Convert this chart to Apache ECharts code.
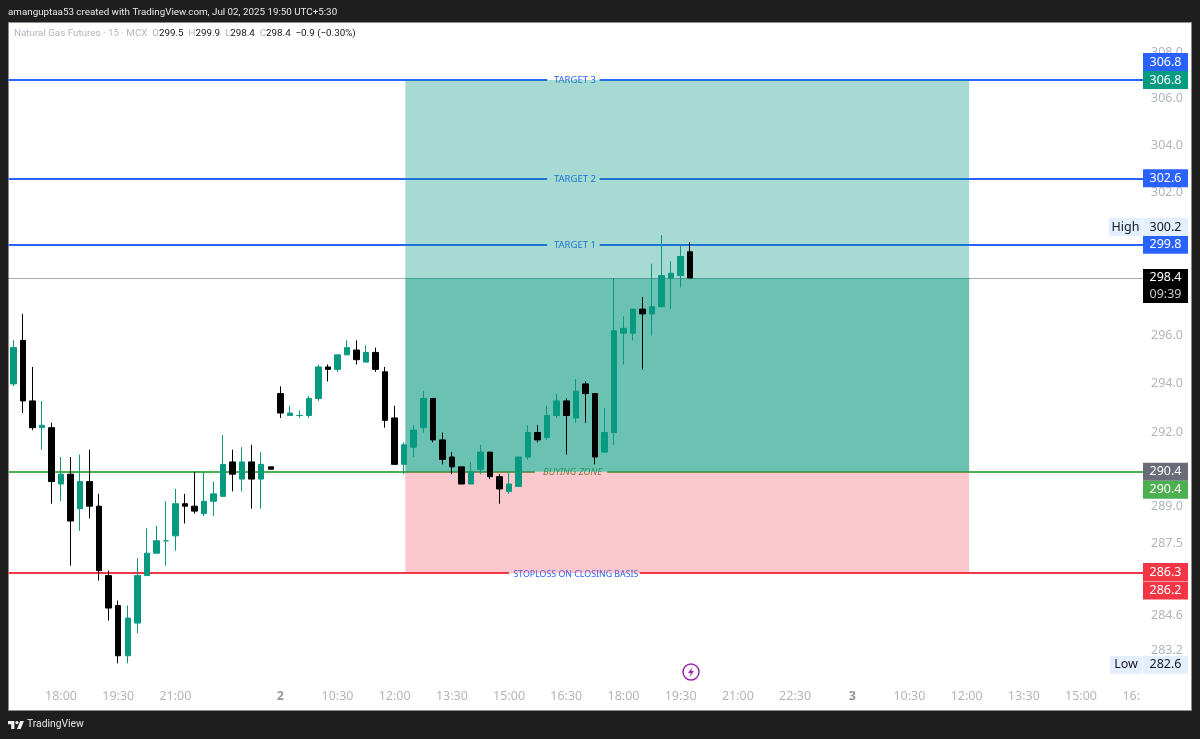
<!DOCTYPE html>
<html><head><meta charset="utf-8"><style>html,body{margin:0;padding:0;background:#1e1e1e}#c{width:1200px;height:739px}</style>
<script src="https://cdn.jsdelivr.net/npm/echarts@6/dist/echarts.min.js"></script></head><body><div id="c"></div>
<script>
const day1Times=['16:45','17:00','17:15','17:30','17:45','18:00','18:15','18:30','18:45','19:00','19:15','19:30','19:45','20:00','20:15','20:30','20:45','21:00','21:15','21:30','21:45','22:00','22:15','22:30','22:45','23:00','23:15','23:30'];
const day2Times=['2','09:15','09:30','09:45','10:00','10:15','10:30','10:45','11:00','11:15','11:30','11:45','12:00','12:15','12:30','12:45','13:00','13:15','13:30','13:45','14:00','14:15','14:30','14:45','15:00','15:15','15:30','15:45','16:00','16:15','16:30','16:45','17:00','17:15','17:30','17:45','18:00','18:15','18:30','18:45','19:00','19:15','19:30','19:45','20:00','20:15','20:30','20:45','21:00','21:15','21:30','21:45','22:00','22:15','22:30','22:45','23:00','23:15','23:30','23:45'];
const day3Times=['3','09:15','09:30','09:45','10:00','10:15','10:30','10:45','11:00','11:15','11:30','11:45','12:00','12:15','12:30','12:45','13:00','13:15','13:30','13:45','14:00','14:15','14:30','14:45','15:00','15:15','15:30','15:45','16:00','16:15','16:30'];
const categories=day1Times.concat(day2Times,day3Times);
const shownTimeIndex=[5,11,17,28,34,40,46,52,58,64,70,76,82,88,94,100,106,112,118];
const priceTicks=[308,306,304,302,296,294,292,289,287.5,284.6,283.2];
// open, close, low, high
const candles=[
[294.0,295.5,293.9,295.8],[295.8,293.3,292.8,296.9],[293.3,292.2,292.1,294.7],[292.2,292.3,291.3,293.3],
[292.2,290.0,289.1,292.4],[289.9,290.3,289.2,291.0],[290.3,288.4,286.6,291.0],[288.9,290.0,288.0,291.1],
[290.0,289.0,288.5,291.3],[289.0,286.4,286.0,289.5],[286.2,284.9,284.4,286.4],[285.0,283.0,282.7,285.2],
[283.0,284.5,282.7,285.0],[284.3,286.2,283.9,286.9],[286.2,287.1,286.2,288.1],[287.1,287.6,287.1,288.2],
[287.6,287.6,286.6,289.2],[287.8,289.1,287.2,289.7],[289.1,289.0,288.3,289.5],[289.0,288.8,288.7,290.4],
[288.7,289.2,288.6,290.4],[289.2,289.5,288.6,290.0],[289.4,290.7,289.4,291.9],[290.8,290.3,289.6,291.3],
[290.1,290.8,289.6,291.4],[290.8,290.1,288.9,291.5],[290.1,290.7,288.9,291.2],[290.6,290.5,290.5,290.6],
[293.6,292.8,292.6,293.9],[292.7,292.8,292.7,293.1],[292.7,292.7,292.6,292.9],[292.7,293.4,292.6,293.5],
[293.4,294.7,293.3,294.8],[294.7,294.6,294.1,294.8],[294.6,295.2,294.5,295.2],[295.2,295.5,295.2,295.8],
[295.4,295.0,294.8,295.8],[294.9,295.3,294.9,295.6],[295.3,294.6,294.5,295.5],[294.5,292.5,292.2,294.7],
[292.6,290.7,290.7,293.1],[290.7,291.5,290.3,291.6],[291.4,292.1,291.0,292.3],[292.2,293.4,292.0,293.7],
[293.4,291.7,291.6,293.4],[291.7,290.9,290.7,292.0],[291.0,290.6,290.3,291.2],[290.6,289.9,289.9,290.6],
[289.9,290.4,289.9,290.8],[290.5,291.2,290.3,291.5],[291.2,290.2,290.1,291.2],[290.2,289.7,289.1,290.3],
[289.6,289.9,289.5,290.4],[289.8,291.0,289.8,291.0],[291.0,292.0,290.9,292.3],[292.0,291.7,291.6,292.3],
[291.8,292.7,291.7,293.1],[292.7,293.3,292.6,293.6],[293.3,292.7,291.1,293.4],[292.6,293.7,292.4,294.2],
[294.0,293.6,292.4,294.1],[293.6,291.0,290.7,293.6],[291.2,292.0,291.2,293.0],[292.0,296.2,291.5,298.4],
[296.1,296.3,294.8,296.8],[296.1,297.1,295.8,297.1],[297.1,296.9,294.6,297.6],[296.9,297.2,296.0,299.0],
[297.2,298.5,297.2,300.2],[298.4,298.6,297.1,299.1],[298.5,299.3,298.0,299.8],[299.5,298.4,298.4,299.9]
];
const target3=306.8,target2=302.6,target1=299.8,lastPrice=298.4,entry=290.4,stop=286.3,stopBadge=286.2,dayHigh=300.2,dayLow=282.6;
const yMin=281.96,yMax=309.31;

const BLUE='#2962ff',GREEN='#4caf50',RED='#f23645',TEAL='#089981',FONT='"Noto Sans",sans-serif';
const HIDDEN={color:'rgba(0,0,0,0)',width:0,opacity:1};
const band=categories.length;
function seg(v,a,b,color,width,type){return [{xAxis:a,yAxis:v,lineStyle:{color,width,type:type||'solid',opacity:1},label:{show:false}},{xAxis:b,yAxis:v}];}
function midLabel(v,a,b,text,color,italic,size){return [{xAxis:a,yAxis:v,lineStyle:HIDDEN,label:{show:true,position:'middle',offset:[1.5,5.5],formatter:text,color,fontSize:size||9.5,fontStyle:italic?'italic':'normal',fontFamily:FONT,distance:0}},{xAxis:b,yAxis:v}];}
function badge(v,text,bg,dy,fg){return [{xAxis:0,yAxis:v,lineStyle:HIDDEN,label:{show:true,position:'end',distance:0,offset:[0,dy],formatter:'{b|'+text+'}',rich:{b:{width:45,height:18,lineHeight:18,align:'center',backgroundColor:bg,color:fg||'#fff',fontSize:12.5,fontFamily:FONT}}}},{xAxis:band,yAxis:v}];}
function hiLow(v,name,dy,w){return [{xAxis:0,yAxis:v,lineStyle:HIDDEN,label:{show:true,position:'end',distance:0,offset:[-w-1,dy],formatter:'{n|'+name+'}{g| }{b|'+v.toFixed(1)+'}',rich:{g:{width:1,height:18,fontSize:1},n:{width:w,height:18,lineHeight:18,align:'center',backgroundColor:'#e3effd',color:'#131722',fontSize:12.5,fontFamily:FONT},b:{width:45,height:18,lineHeight:18,align:'center',backgroundColor:'#e3effd',color:'#131722',fontSize:12.5,fontFamily:FONT}}}},{xAxis:band,yAxis:v}];}

const gapT=[56.5,62],gapB=[55.2,62.8],gapS=[52.5,66.2],LINE_W=1.8;
const markLines=[
 seg(target3,0,gapT[0],BLUE,LINE_W),seg(target3,gapT[1],band,BLUE,LINE_W),midLabel(target3,gapT[0],gapT[1],'TARGET 3',BLUE),
 seg(target2,0,gapT[0],BLUE,LINE_W),seg(target2,gapT[1],band,BLUE,LINE_W),midLabel(target2,gapT[0],gapT[1],'TARGET 2',BLUE),
 seg(target1,0,gapT[0],BLUE,LINE_W),seg(target1,gapT[1],band,BLUE,LINE_W),midLabel(target1,gapT[0],gapT[1],'TARGET 1',BLUE),
 seg(entry,0,gapB[0],GREEN,LINE_W),seg(entry,gapB[1],band,GREEN,LINE_W),midLabel(entry,gapB[0],gapB[1],'BUYING ZONE','#5f8f3a',true),
 seg(stop,0,gapS[0],RED,LINE_W),seg(stop,gapS[1],band,RED,LINE_W),midLabel(stop,gapS[0],gapS[1],'STOPLOSS ON CLOSING BASIS',BLUE,false,8.8),
 seg(lastPrice,0,band,'#555',1,'dotted'),
 badge(target3,String(target3),BLUE,-18),badge(target3,String(target3),TEAL,0),
 badge(target2,String(target2),BLUE,0),badge(target1,String(target1),BLUE,0),
 hiLow(dayHigh,'High',-8,33),hiLow(dayLow,'Low',-1,32),
 badge(entry,String(entry),'#6a6d78',0),badge(entry,String(entry),GREEN,18),
 badge(stop,String(stop),RED,-1),badge(stopBadge,String(stopBadge),RED,15),
 [{xAxis:0,yAxis:lastPrice,lineStyle:HIDDEN,label:{show:true,position:'end',distance:0,offset:[0,8],formatter:'{p|298.4}\n{t|09:39}',backgroundColor:'#000',width:45,height:34,rich:{p:{width:45,height:17,lineHeight:17,align:'center',color:'#fff',fontSize:12.5,fontFamily:FONT},t:{width:45,height:17,lineHeight:17,align:'center',color:'#c8c8c8',fontSize:12.5,fontFamily:FONT}}}},{xAxis:band,yAxis:lastPrice}]
];
const zoneLeft=41.62,zoneRight=100.76;
const chart=echarts.init(document.getElementById('c'),null,{renderer:'canvas'});
chart.setOption({
 animation:false,backgroundColor:'#1e1e1e',
 grid:{left:8.6,top:22,width:1134.4,height:660,containLabel:false},
 xAxis:[
  {type:'category',data:categories,axisLine:{show:false},axisTick:{show:false},splitLine:{show:false},
   axisLabel:{margin:8,interval:(i)=>shownTimeIndex.includes(i),color:'#b2b5be',fontSize:12.5,fontFamily:FONT,
    formatter:(v,i)=>{if(v==='2'||v==='3')return '{day|'+v+'}';if(i===categories.length-1)return '{cut|16:}';return v;},
    rich:{day:{fontWeight:'bold',color:'#9598a1',fontSize:12.5,fontFamily:FONT},cut:{color:'#b2b5be',fontSize:12.5,fontFamily:FONT,padding:[0,14,0,0]}}}},
  {type:'value',show:false,min:0,max:band,splitLine:{show:false}}
 ],
 yAxis:{type:'log',position:'right',min:yMin,max:yMax,logBase:Math.E,axisLine:{show:false},axisTick:{show:false},splitLine:{show:false},minorSplitLine:{show:false},
  axisLabel:{customValues:priceTicks,margin:8,color:'#b2b5be',fontSize:12.5,fontFamily:FONT,formatter:(v)=>(+v).toFixed(1)}},
 graphic:[
  {type:'rect',z:-100,silent:true,shape:{x:8.5,y:22.5,width:1183,height:688},style:{fill:'#fff',stroke:'#8c8c8c',lineWidth:1}},
  {type:'text',x:8,y:8,style:{text:'amanguptaa53 created with TradingView.com, Jul 02, 2025 19:50 UTC+5:30',fill:'#e8e8e8',font:'9.8px Roboto,sans-serif'}},
  {type:'text',x:14,y:29,z:50,style:{text:'{g|Natural Gas Futures · 15 · MCX  O}{k|299.5}{g|  H}{k|299.9}{g|  L}{k|298.4}{g|  C}{k|298.4}{k|  −0.9 (−0.30%)}',font:'9.8px Roboto,sans-serif',rich:{g:{fill:'#b2b5be',font:'9.8px Roboto,sans-serif'},k:{fill:'#131722',font:'9.8px Roboto,sans-serif'}}}},
  {type:'circle',shape:{cx:691,cy:672,r:8},z:50,style:{fill:'#fff',stroke:'#9c27b0',lineWidth:1.5}},
  {type:'polygon',z:51,shape:{points:[[692.5,667],[688,673],[690.8,673],[689.5,677],[694,671],[691.2,671]]},style:{fill:'#9c27b0'}},
  {type:'polygon',z:50,shape:{points:[[8,721],[14.4,721],[14.4,729],[11.2,729],[11.2,724.2],[8,724.2]]},style:{fill:'#f0f0f0'}},
  {type:'polygon',z:50,shape:{points:[[20.7,729],[17,729],[20.2,721],[23.9,721]]},style:{fill:'#f0f0f0'}},
  {type:'circle',z:50,shape:{cx:17,cy:722.6,r:1.6},style:{fill:'#f0f0f0'}},
  {type:'text',x:27,y:719,z:50,style:{text:'TradingView',fill:'#e8e8e8',font:'10.3px Roboto,sans-serif'}}
 ],
 series:[
  {name:'levels',type:'line',xAxisIndex:1,data:[],symbol:'none',silent:true,z:1,
   markLine:{silent:true,z:1,symbol:'none',animation:false,data:markLines}},
  {name:'zones',type:'line',xAxisIndex:1,data:[],symbol:'none',silent:true,z:2,
   markArea:{silent:true,z:2,animation:false,data:[
    [{xAxis:zoneLeft,yAxis:target3,itemStyle:{color:'rgba(8,153,129,0.36)'}},{xAxis:zoneRight,yAxis:lastPrice}],
    [{xAxis:zoneLeft,yAxis:lastPrice,itemStyle:{color:'rgba(8,153,129,0.6)'}},{xAxis:zoneRight,yAxis:entry}],
    [{xAxis:zoneLeft,yAxis:entry,itemStyle:{color:'rgba(242,54,69,0.27)'}},{xAxis:zoneRight,yAxis:stop}]
   ]}},
  {name:'Natural Gas Futures',type:'candlestick',xAxisIndex:0,data:candles,barWidth:6,z:3,
   itemStyle:{color:TEAL,color0:'#000',borderColor:TEAL,borderColor0:'#000',borderColorDoji:TEAL,borderWidth:1}}
 ]
});
</script></body></html>
